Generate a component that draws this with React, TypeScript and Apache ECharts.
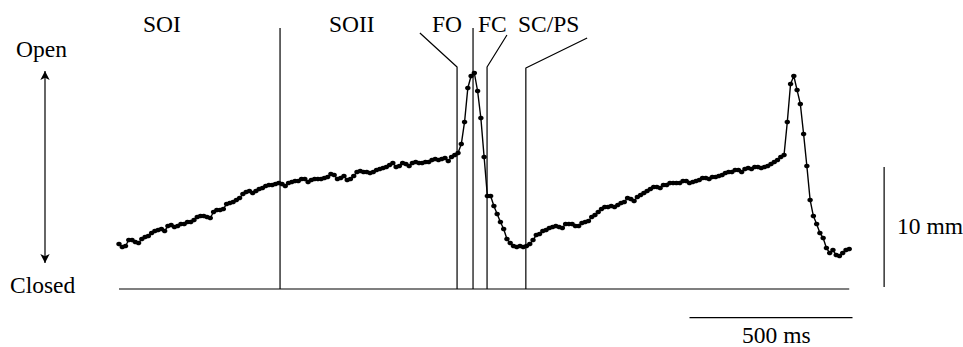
import React, { useEffect, useRef } from "react";
import * as echarts from "echarts";

// Sampling interval of the trace (ms) and trace values (mm above closed baseline)
const SAMPLE_MS = 10;
const TRACE_MM = [
  3.75, 3.5, 3.58, 4.08, 4.08, 3.92, 3.83, 4.17, 4.33, 4.42,
  4.67, 4.83, 4.92, 5.0, 4.83, 5.25, 5.33, 5.17, 5.25, 5.42,
  5.42, 5.58, 5.58, 5.75, 6.0, 6.08, 6.08, 6.0, 5.92, 6.42,
  6.58, 6.58, 6.67, 7.08, 7.17, 7.25, 7.42, 7.58, 7.92, 8.08,
  8.17, 8.0, 8.17, 8.33, 8.42, 8.58, 8.67, 8.67, 8.75, 8.83,
  8.75, 8.58, 8.83, 8.92, 9.0, 9.0, 9.17, 9.17, 8.92, 9.08,
  9.17, 9.17, 9.17, 9.25, 9.33, 9.58, 9.5, 9.17, 9.25, 9.42,
  9.08, 9.17, 9.42, 9.75, 9.83, 9.75, 9.75, 9.67, 9.75, 9.92,
  10.0, 10.08, 10.17, 10.33, 10.5, 10.17, 10.25, 10.5, 10.42, 10.25,
  10.5, 10.58, 10.5, 10.5, 10.58, 10.58, 10.75, 10.83, 10.75, 10.83,
  10.92, 10.67, 11.0, 11.17, 11.33, 12.08, 13.92, 16.75, 17.75, 18.0,
  16.5, 14.25, 11.0, 7.75, 7.75, 6.92, 6.25, 5.58, 5.0, 4.17,
  3.83, 3.58, 3.5, 3.58, 3.5, 3.58, 3.75, 4.08, 4.5, 4.58,
  4.83, 4.92, 5.08, 5.17, 5.25, 5.17, 5.08, 5.42, 5.42, 5.42,
  5.25, 5.25, 5.5, 5.58, 5.67, 6.0, 6.17, 6.42, 6.67, 6.83,
  6.83, 6.92, 6.83, 7.0, 7.17, 7.25, 7.58, 7.5, 7.33, 7.67,
  7.83, 8.0, 8.17, 8.33, 8.5, 8.5, 8.42, 8.67, 8.67, 8.83,
  8.83, 8.83, 8.83, 9.0, 9.0, 8.83, 8.92, 9.0, 9.08, 9.25,
  9.25, 9.17, 9.33, 9.33, 9.42, 9.5, 9.67, 9.75, 9.75, 9.92,
  9.92, 9.75, 10.0, 10.08, 10.0, 10.17, 10.17, 10.08, 10.17, 10.25,
  10.42, 10.58, 10.75, 11.0, 11.17, 13.92, 17.08, 17.75, 16.58, 15.42,
  12.92, 10.25, 7.42, 6.08, 5.42, 4.67, 4.25, 3.42, 3.0, 3.25,
  2.83, 2.75, 3.0, 3.25, 3.33,
];

// Closed baseline (ms, mm)
const BASELINE = [[0, 0], [2240, 0]];

// Event marker lines (ms, mm): label leader + vertical drop to baseline
const SOII_LINE = [[494, 21.75], [494, 0]];
const FO_LINE = [[923, 21.33], [1037, 18.5], [1037, 0]];
const PEAK_LINE = [[1086, 21.75], [1086, 0]];
const FC_LINE = [[1190, 21.17], [1129, 18.5], [1129, 0]];
const SCPS_LINE = [[1436, 20.92], [1248, 18.42], [1248, 0]];

// Scale bars
const TIME_BAR = [[1750, -2.39], [2250, -2.39]];
const AMP_BAR = [[2347, 0.17], [2347, 10.17]];
const OPEN_CLOSED_ARROW = [[-227, 18.17], [-227, 2.17]];

// Labels
const EVENT_LABELS = ["SOI", "SOII", "FO", "FC", "SC/PS"];

// Layout (pixel mapping)
const W = 963;
const H = 347;
const PX_PER_MS = 0.326;
const X0 = 119;
const PX_PER_MM = 12;
const Y0 = 289;

const FONT = "'Liberation Serif', 'Times New Roman', serif";
const FS = 23.5;

export default function App() {
  const ref = useRef<HTMLDivElement>(null);
  useEffect(() => {
    if (!ref.current) return;
    const chart = echarts.init(ref.current, undefined, { renderer: "svg" });
    const lineSeries = (data: any[], extra: any = {}) => ({
      type: "line",
      data,
      symbol: "none",
      silent: true,
      lineStyle: { color: "#000", width: 1.2 },
      ...extra,
    });
    const txt = (text: string, left: number, baseline: number) => ({
      type: "text",
      x: left,
      y: baseline - FS * 0.33,
      style: {
        text,
        fill: "#000",
        font: `${FS}px ${FONT}`,
        align: "left",
        verticalAlign: "middle",
      },
    });
    const labelLefts = [143, 329, 432, 478, 518];
    chart.setOption({
      animation: false,
      grid: { left: 0, right: 0, top: 0, bottom: 0 },
      xAxis: {
        type: "value",
        min: -X0 / PX_PER_MS,
        max: (W - X0) / PX_PER_MS,
        show: false,
      },
      yAxis: {
        type: "value",
        min: -(H - Y0) / PX_PER_MM,
        max: Y0 / PX_PER_MM,
        show: false,
      },
      series: [
        lineSeries(BASELINE),
        lineSeries(SOII_LINE),
        lineSeries(FO_LINE),
        lineSeries(PEAK_LINE),
        lineSeries(FC_LINE),
        lineSeries(SCPS_LINE),
        lineSeries(TIME_BAR),
        lineSeries(AMP_BAR),
        lineSeries(
          OPEN_CLOSED_ARROW.map((p, i) => ({
            value: p,
            symbolRotate: i === 0 ? 0 : 180,
          })),
          {
            symbol: "arrow",
            symbolSize: [7, 9],
            showAllSymbol: true,
            itemStyle: { color: "#000" },
          }
        ),
        {
          type: "line",
          data: TRACE_MM.map((v, i) => [i * SAMPLE_MS, v]),
          symbol: "circle",
          symbolSize: [5.5, 4.5],
          showAllSymbol: true,
          silent: true,
          itemStyle: { color: "#000", borderWidth: 0 },
          lineStyle: { color: "#000", width: 1.4 },
        },
      ],
      graphic: [
        ...EVENT_LABELS.map((l, i) => txt(l, labelLefts[i], 32)),
        txt("Open", 16, 57),
        txt("Closed", 10, 293),
        txt("10 mm", 897, 234),
        txt("500 ms", 742, 343),
      ],
    });
    return () => chart.dispose();
  }, []);
  return (
    <div
      ref={ref}
      style={{ position: "fixed", left: 0, top: 0, width: W, height: H, background: "#fff" }}
    />
  );
}
